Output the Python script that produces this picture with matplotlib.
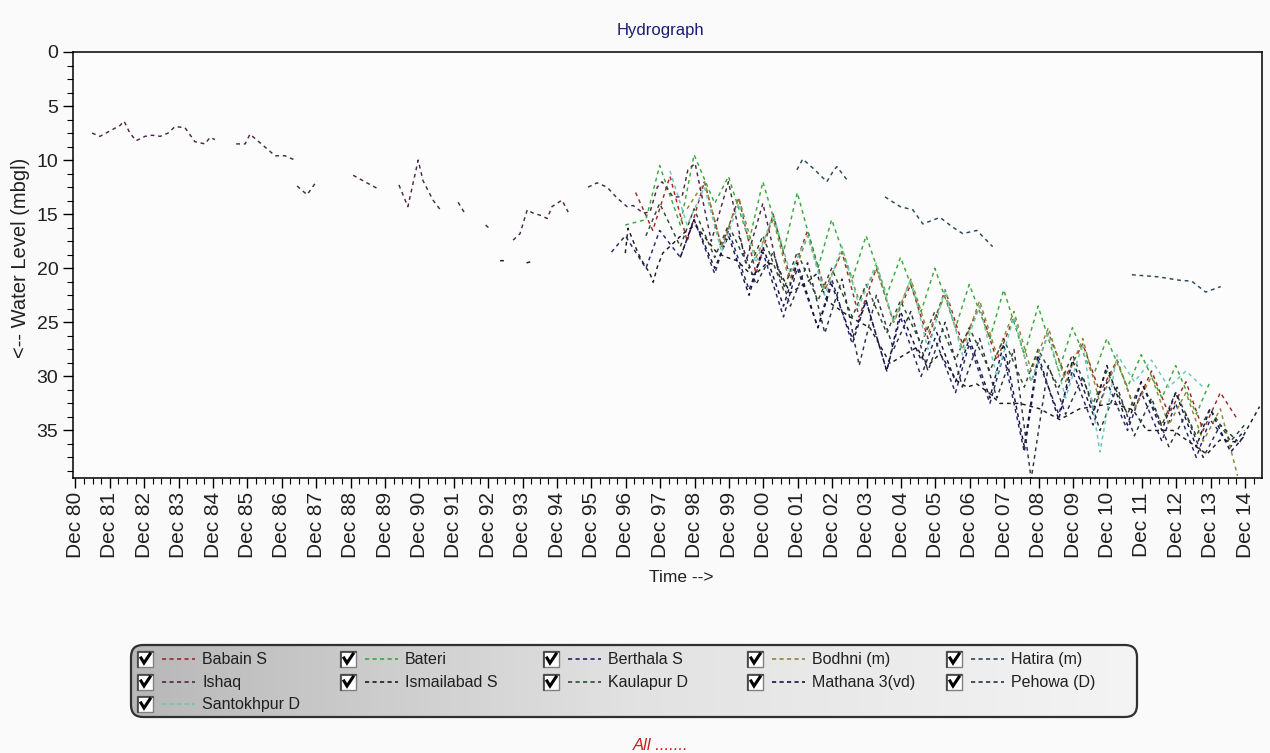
import matplotlib
matplotlib.use("Agg")
import matplotlib.pyplot as plt
import numpy as np
from matplotlib.patches import FancyBboxPatch, Rectangle
from matplotlib.lines import Line2D
from matplotlib.ticker import FixedLocator, MultipleLocator

plt.rcParams["font.family"] = ["Liberation Sans", "DejaVu Sans"]

nan = np.nan

# ── Data (decimal years, water level below ground in m) ──────────────
year_ticks = list(range(1980, 2015))
tick_labels = [f"Dec {y % 100:02d}" for y in year_ticks]

# half-yearly sampling rounds used by the dense stations
rounds_a = [1996.50, 1996.90, 1997.50, 1997.90, 1998.50, 1998.90, 1999.50, 1999.90,
            2000.50, 2000.90, 2001.50, 2001.90, 2002.50, 2002.90, 2003.50, 2003.90,
            2004.50, 2004.90, 2005.50, 2005.90, 2006.50, 2006.90, 2007.50, 2007.90,
            2008.50, 2008.90, 2009.50, 2009.90, 2010.50, 2010.90, 2011.50, 2011.90,
            2012.50, 2012.90, 2013.50, 2013.90, 2014.50, 2014.90]
rounds_b = [1996.70, 1997.20, 1997.70, 1998.20, 1998.70, 1999.20, 1999.70, 2000.20,
            2000.70, 2001.20, 2001.70, 2002.20, 2002.70, 2003.20, 2003.70, 2004.20,
            2004.70, 2005.20, 2005.70, 2006.20, 2006.70, 2007.20, 2007.70, 2008.20,
            2008.70, 2009.20, 2009.70, 2010.20, 2010.70, 2011.20, 2011.70, 2012.20,
            2012.70, 2013.20, 2013.70, 2014.20, 2014.70]

# rounds_b stations
babain = [nan, 13.0, 16.5, 11.5, 17.5, 12.0, 18.0, 13.5, 20.5, 15.0, 21.0, 16.5, 22.0,
          18.5, 24.5, 20.0, 25.0, 21.5, 26.5, 22.0, 27.0, 23.5, 28.5, 24.5, 30.5, 26.0,
          30.0, 27.0, 31.5, 28.5, 33.0, 29.5, 33.5, 30.5, 35.0, 31.5, 34.0]
bodhni = [nan, nan, nan, nan, 14.5, 12.0, 18.0, 13.5, 19.0, 15.5, 21.5, 17.0, 22.0,
          18.5, 23.0, 20.0, 25.0, 21.0, 26.0, 22.5, 27.5, 23.0, 28.0, 24.0, 29.5, 25.5,
          30.5, 26.5, 32.5, 28.5, 33.0, 30.0, 34.5, 31.5, 36.0, 33.0, 39.2]
pehowa = [nan, nan, nan, nan, nan, nan, nan, 17.0, 21.5, 18.5, 23.5, 19.5, 26.0,
          21.0, 29.0, 22.5, 27.5, 24.0, 29.5, 25.0, 31.0, 26.5, 32.0, 27.5, 39.5, 29.0,
          33.5, 30.0, 35.0, 31.0, 35.5, 32.0, 36.5, 33.5, 37.5, 34.5, 36.0]
santokhpur = [nan, nan, nan, 11.0, 16.0, 12.5, 18.5, 14.0, 19.5, 15.0, 20.5, 17.0, 22.5,
              18.0, 23.5, 19.5, 25.0, 21.0, 27.5, 22.0, 28.0, 23.5, 30.0, 24.5, 30.5, 26.0,
              32.0, 27.0, 37.0, 28.0, 30.5, 28.5, 31.0, 29.5, 31.0, nan, nan]

# rounds_a stations
bateri = [nan, 16.0, 15.5, 10.5, 16.0, 9.5, 14.0, 11.5, 17.5, 12.0, 18.5, 13.0, 20.0, 15.5,
          21.0, 17.0, 22.5, 19.0, 24.0, 20.0, 25.5, 21.5, 26.5, 22.0, 28.0, 23.5, 29.5, 25.5,
          30.0, 26.5, 31.0, 28.0, 32.0, 29.0, 33.5, 30.5, nan, nan]
berthala = [18.5, 17.0, 20.0, 16.5, 19.0, 15.5, 20.5, 16.5, 22.0, 18.5, 24.5, 20.0, 25.5, 21.0,
            27.0, 23.0, 29.5, 24.5, 30.0, 26.5, 31.5, 27.0, 32.5, 28.0, 37.0, 28.5, 33.5, 29.5,
            34.5, 30.5, 35.0, 31.5, 36.0, 32.5, 37.5, 34.0, 36.5, 35.0]
kaulapur = [nan, nan, 17.0, 14.0, 18.0, 14.5, 19.0, 16.0, 20.0, 17.0, 22.0, 18.5, 23.0, 20.0,
            24.5, 21.5, 26.0, 23.0, 27.0, 24.0, 28.5, 25.5, 29.5, 26.5, 31.0, 27.5, 31.0, 28.0,
            32.5, 29.5, 33.5, 30.5, 34.5, 31.5, 35.5, 33.0, 36.0, 34.5]
mathana = [nan, nan, nan, nan, 19.0, 15.5, 20.0, 17.0, 22.5, 18.0, 23.5, 19.5, 25.5, 21.5,
           26.5, 23.0, 29.5, 24.0, 28.5, 25.5, 30.5, 26.5, 32.0, 27.0, 36.5, 28.0, 34.0, 28.5,
           33.5, 29.0, 34.5, 30.5, 35.0, 31.5, 36.5, 33.0, 37.0, 35.5]

ishaq_t = [1981.40, 1981.63, 1981.92, 1982.21, 1982.33, 1982.50, 1982.68, 1982.94, 1983.14,
           1983.38, 1983.61, 1983.81, 1984.10, 1984.39, 1984.68, 1984.83, 1984.97, 1985.30,
           1985.59, 1985.85, 1985.99, 1986.43, 1986.72, 1987.01, 1987.30, 1987.33,
           1987.36, 1987.65, 1987.94, 1988.50,
           1988.99, 1989.33, 1989.68, 1990.00,
           1990.32, 1990.58, 1990.88, 1991.02, 1991.31, 1991.55, 1991.80,
           1992.04, 1992.27, 1992.60, 1992.84, 1992.98, 1993.30,
           1993.64, 1993.84, 1994.05, 1994.22, 1994.43, 1994.63, 1994.77, 1995.06, 1995.24, 1995.50,
           1995.82, 1996.08, 1996.37, 1996.66, 1996.95, 1997.13, 1997.42, 1997.62, 1997.83,
           1997.97, 1998.11, 1998.29, 1998.55, 1998.72, 1998.93, 1999.40, 1999.90, 2000.40,
           2000.90, 2001.40]
ishaq = [7.5, 7.8, 7.3, 6.8, 6.4, 7.5, 8.2, 7.8, 7.7,
         7.8, 7.5, 6.9, 7.0, 8.3, 8.5, 7.9, 8.1, nan,
         8.5, 8.5, 7.6, 8.8, 9.6, 9.6, 10.0, nan,
         12.4, 13.2, 11.9, nan,
         11.4, 12.0, 12.6, nan,
         12.3, 14.3, 10.0, 11.9, 13.7, 14.7, nan,
         13.9, 15.1, nan, 16.0, 16.4, nan,
         17.4, 16.8, 14.6, 14.9, 15.1, 15.4, 14.3, 13.7, 14.8, nan,
         12.5, 12.1, 12.5, 13.5, 14.3, 14.2, 14.9, 14.8, 12.5,
         12.0, 12.6, 13.4, 13.4, 10.9, 10.3, 17.5, 12.0, 19.5,
         14.0, 21.0]

ismailabad_t = [1993.26, 1993.40, 1993.70, 1994.03, 1994.15, 1995.00,
                1996.90, 1996.98, 1997.27, 1997.42, 1997.62, 1997.71, 1997.83, 1997.99, 1998.29,
                1998.58, 1998.93, 1999.28, 1999.57, 1999.86, 2000.15, 2000.53, 2000.67, 2001.02,
                2001.31, 2001.69, 2002.18, 2002.47, 2002.76, 2003.43, 2004.01, 2004.60, 2005.38,
                2005.67, 2006.05, 2006.54, 2006.83, 2007.12, 2007.50, 2007.79, 2008.37, 2008.95,
                2009.53, 2010.11, 2011.07, 2011.66, 2012.06, 2012.82, 2013.81, 2014.18, 2014.76,
                2015.34]
ismailabad = [19.3, 19.3, nan, 19.5, 19.4, nan,
              18.6, 16.3, 18.6, 19.5, 20.5, 21.3, 19.9, 18.6, 17.7,
              16.8, 16.0, 17.4, 18.6, 19.0, 19.3, 20.5, 20.6, 19.5,
              19.7, 22.3, 21.3, 20.5, 23.0, 24.5, 25.5, 28.8, 27.3,
              29.1, 27.9, 30.4, 31.0, 30.7, 31.6, 32.5, 32.5, 33.0,
              34.0, 33.0, 32.5, 33.1, 35.0, 35.0, 37.2, 35.9, 36.1,
              32.8]

hatira_t = [2001.89, 2002.06, 2002.41, 2002.76, 2002.93, 2003.05, 2003.34, 2003.90,
            2004.45, 2004.89, 2005.26, 2005.55, 2006.05, 2006.42, 2006.71, 2007.12, 2007.58,
            2009.00,
            2011.63, 2012.41, 2012.99, 2013.37, 2013.77, 2014.21]
hatira = [10.9, 9.9, 10.9, 12.0, 11.1, 10.6, 11.8, nan,
          13.4, 14.3, 14.6, 15.9, 15.3, 16.2, 16.8, 16.5, 18.0,
          nan,
          20.6, 20.8, 21.1, 21.2, 22.2, 21.7]

stations = ["Babain S", "Bateri", "Berthala S", "Bodhni (m)", "Hatira (m)",
            "Ishaq", "Ismailabad S", "Kaulapur D", "Mathana 3(vd)", "Pehowa (D)",
            "Santokhpur D"]
colors = ["#a02828", "#3aa83a", "#24246e", "#8c8a34", "#2a4658",
          "#4a2848", "#1c1c1c", "#2c4a2c", "#141440", "#2a3440",
          "#6cc8b8"]
series = [(rounds_b, babain), (rounds_a, bateri), (rounds_a, berthala),
          (rounds_b, bodhni), (hatira_t, hatira), (ishaq_t, ishaq),
          (ismailabad_t, ismailabad), (rounds_a, kaulapur), (rounds_a, mathana),
          (rounds_b, pehowa), (rounds_b, santokhpur)]

DASH = (0, (2.6, 2.6))
W, H = 1270, 753

fig = plt.figure(figsize=(W / 100, H / 100), dpi=100, facecolor="#fafafa")

# ── Main axes ──────────────────────────────────────────────
ax = fig.add_axes([73 / W, 1 - 478 / H, (1262 - 73) / W, (478 - 52) / H])
ax.set_facecolor("#fcfcfc")
for (t, v), c in zip(series, colors):
    ax.plot(t, v, color=c, lw=1.05, linestyle=DASH)

ax.set_ylim(39.4, 0)
ax.set_xlim(1980.845, 2015.41)
ax.yaxis.set_major_locator(FixedLocator([0, 5, 10, 15, 20, 25, 30, 35]))
ax.yaxis.set_minor_locator(MultipleLocator(1.25))
ax.xaxis.set_major_locator(FixedLocator([y + 11 / 12 for y in year_ticks]))
ax.xaxis.set_minor_locator(FixedLocator(
    [y + m / 12 for y in range(1980, 2016) for m in (2, 5, 8, 11)]))
ax.set_xticklabels(tick_labels, rotation=90, fontsize=15, color="#202020")
ax.tick_params(axis="y", labelsize=14, length=7, width=1, direction="out",
               labelcolor="#202020")
ax.tick_params(axis="x", length=7, width=1, direction="out", pad=3)
ax.tick_params(which="minor", length=4, width=0.8)
for s in ax.spines.values():
    s.set_linewidth(1.1)

fig.text(660 / W, 1 - 30 / H, "Hydrograph", ha="center", va="center",
         fontsize=12, color="#1a1a7a")
fig.text(21 / W, 1 - 258 / H, "<-- Water Level (mbgl)", rotation=90,
         ha="center", va="center", fontsize=14.5, color="#202020")
fig.text(681 / W, 1 - 578 / H, "Time -->", ha="center", va="center", fontsize=12.5,
         color="#202020")
fig.text(661 / W, 1 - 745 / H, "All .......", ha="center", va="center",
         fontsize=12, color="#c82020", style="italic")

# ── Checkbox legend panel ──────────────────────────────────
lx0, ly0, lw_, lh_ = 128, 642, 1012, 78
lax = fig.add_axes([lx0 / W, 1 - (ly0 + lh_) / H, lw_ / W, lh_ / H])
lax.set_xlim(0, lw_)
lax.set_ylim(lh_, 0)
lax.axis("off")

box = FancyBboxPatch((3, 3), lw_ - 6, lh_ - 6,
                     boxstyle="round,pad=0,rounding_size=12",
                     facecolor="none", edgecolor="#303030", lw=1.6, zorder=3)
lax.add_patch(box)
grad = np.linspace(0, 1, 256).reshape(1, -1)
img = lax.imshow(grad, cmap=matplotlib.colors.LinearSegmentedColormap.from_list(
    "g", ["#b8b8b8", "#e2e2e2", "#f4f4f4"]), extent=(3, lw_ - 3, lh_ - 3, 3),
    aspect="auto", zorder=1)
img.set_clip_path(box)

col_x = [9, 212, 415, 619, 818]
row_y = [17, 40, 62]
for i, (name, c) in enumerate(zip(stations, colors)):
    r, k = divmod(i, 5)
    x, y = col_x[k], row_y[r]
    lax.add_patch(Rectangle((x, y - 8), 16, 16, facecolor="white",
                            edgecolor="#808080", lw=1.0, zorder=4))
    lax.add_line(Line2D([x + 1, x + 1, x + 16], [y + 8, y - 7, y - 7],
                        color="#404040", lw=1.2, zorder=5))
    lax.add_line(Line2D([x + 4, x + 7, x + 13], [y - 1, y + 4, y - 5],
                        color="black", lw=2.2, zorder=6, solid_joinstyle="miter"))
    lax.add_line(Line2D([x + 25, x + 58], [y, y], color=c, lw=1.2,
                        linestyle=(0, (2.5, 2.0)), zorder=5))
    lax.text(x + 65, y + 0.5, name, ha="left", va="center", fontsize=11.5,
             color="#202020", zorder=6)

fig.savefig("out.png", dpi=100, facecolor=fig.get_facecolor())
